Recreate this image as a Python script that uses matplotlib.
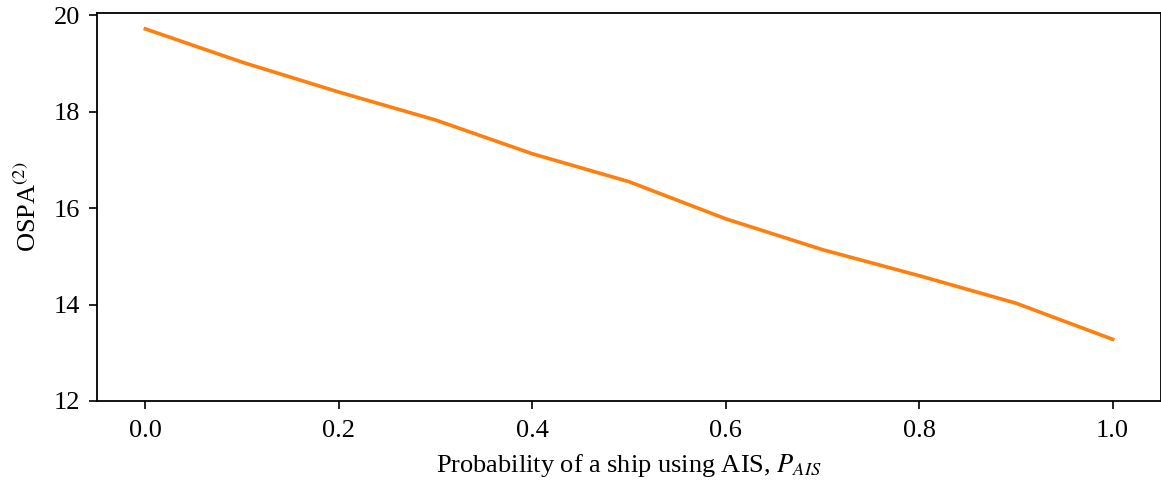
import matplotlib
matplotlib.use("Agg")
import matplotlib.pyplot as plt

# OSPA(2) versus probability of AIS usage
p_ais = [0.0, 0.1, 0.2, 0.3, 0.4, 0.5, 0.6, 0.7, 0.8, 0.9, 1.0]
ospa2 = [19.72, 19.03, 18.41, 17.83, 17.13, 16.55, 15.78, 15.14, 14.60, 14.03, 13.28]
y_ticks = [12, 14, 16, 18, 20]
x_ticks = [0.0, 0.2, 0.4, 0.6, 0.8, 1.0]

plt.rcParams['font.family'] = ['Liberation Serif', 'DejaVu Serif']
plt.rcParams['mathtext.fontset'] = 'stix'

fig = plt.figure(figsize=(11.61, 4.83), dpi=100)
ax = fig.add_axes([97 / 1161, 1 - 401 / 483, (1161 - 97) / 1161, (401 - 13) / 483])

ax.plot(p_ais, ospa2, color='#ff7f0e', linewidth=2.6)

ax.set_xlim(-0.05, 1.05)
ax.set_ylim(12, 20.05)
ax.set_xticks(x_ticks)
ax.set_xticklabels([f"{v:.1f}" for v in x_ticks])
ax.set_yticks(y_ticks)

ax.tick_params(labelsize=19, length=6, width=1.2)
ax.tick_params(axis='x', pad=8)
ax.tick_params(axis='y', pad=6)
for s in ax.spines.values():
    s.set_linewidth(1.3)

ax.set_xlabel("Probability of a ship using AIS, $P_{AIS}$", fontsize=19, labelpad=7)
ax.set_ylabel("OSPA$^{(2)}$", fontsize=19, labelpad=9)

fig.savefig("out.png", dpi=100)
